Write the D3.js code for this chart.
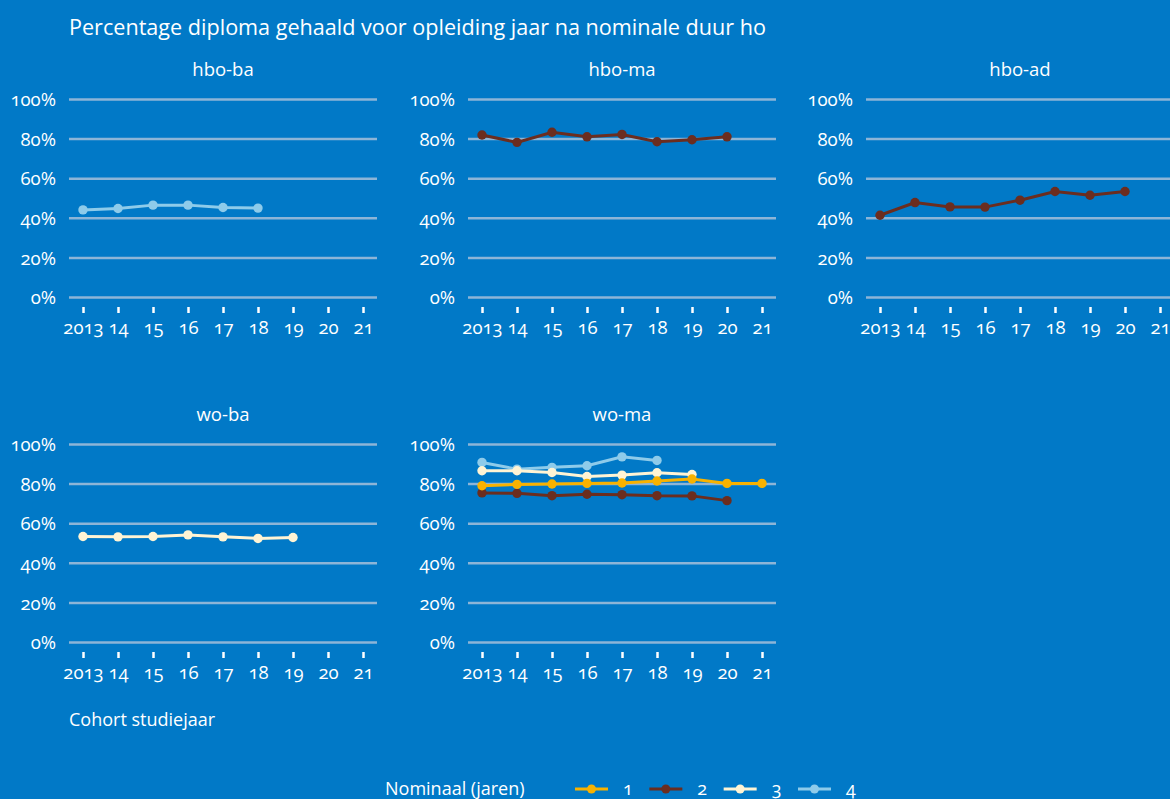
<!DOCTYPE html>
<html>
<head>
<meta charset="utf-8">
<script src="https://cdn.jsdelivr.net/npm/d3@7"></script>
<style>
  html, body { margin: 0; padding: 0; background: #0179C7; }
  svg { display: block; }
  text { font-family: "Open Sans", "Noto Sans", sans-serif; fill: #ffffff; font-variant-numeric: oldstyle-nums; }
</style>
</head>
<body>
<svg id="chart" width="1170" height="799"></svg>
<script>
// Cohort years (x axis) and their tick labels
const years = [2013, 2014, 2015, 2016, 2017, 2018, 2019, 2020, 2021];
const yearLabels = ["2013", "14", "15", "16", "17", "18", "19", "20", "21"];
const pctTicks = [0, 20, 40, 60, 80, 100];

// Nominal duration categories (years) for the legend
const durations = ["1", "2", "3", "4"];
const durationColors = ["#F8B200", "#6B2D1F", "#FFF4D4", "#8ECBEA"];

// Percentage diploma obtained within one year after nominal duration, per cohort
const hboBa4 = [44.0, 44.7, 46.4, 46.4, 45.2, 44.9];
const hboMa2 = [81.8, 78.1, 83.2, 80.9, 82.1, 78.4, 79.4, 80.9];
const hboAd2 = [41.3, 47.7, 45.5, 45.4, 48.9, 53.3, 51.4, 53.3];
const woBa3  = [53.3, 53.1, 53.3, 54.1, 53.1, 52.3, 52.8];
const woMa1  = [78.9, 79.6, 79.8, 80.1, 80.3, 81.3, 82.3, 80.1, 80.1];
const woMa2  = [75.3, 75.1, 73.9, 74.6, 74.4, 73.9, 73.8, 71.4];
const woMa3  = [86.5, 86.5, 85.6, 83.6, 84.3, 85.5, 84.6];
const woMa4  = [90.7, 87.3, 88.2, 89.0, 93.5, 91.7];

const panels = [
  { name: "hbo-ba", col: 0, row: 0, series: [{ d: "4", v: hboBa4 }] },
  { name: "hbo-ma", col: 1, row: 0, series: [{ d: "2", v: hboMa2 }] },
  { name: "hbo-ad", col: 2, row: 0, series: [{ d: "2", v: hboAd2 }] },
  { name: "wo-ba",  col: 0, row: 1, series: [{ d: "3", v: woBa3 }] },
  { name: "wo-ma",  col: 1, row: 1, series: [
      { d: "4", v: woMa4 }, { d: "3", v: woMa3 }, { d: "2", v: woMa2 }, { d: "1", v: woMa1 }] }
];

const color = d3.scaleOrdinal().domain(durations).range(durationColors);

const svg = d3.select("#chart");
const gridColor = "#8DB5D7";

// Main title
svg.append("text")
  .attr("x", 69).attr("y", 35)
  .style("font-size", "21.6px")
  .text("Percentage diploma gehaald voor opleiding jaar na nominale duur ho");

const panelW = 308, panelH = 198;
const colX = [69, 468, 866];
const rowY = [99, 444];

panels.forEach(p => {
  const left = colX[p.col], top = rowY[p.row];
  const g = svg.append("g").attr("transform", `translate(${left},${top})`);

  const x = d3.scaleLinear().domain([2013, 2021]).range([14, 294]);
  const y = d3.scaleLinear().domain([0, 100]).range([panelH, 0]);

  // Panel heading
  g.append("text")
    .attr("x", panelW / 2).attr("y", -23)
    .attr("text-anchor", "middle")
    .style("font-size", "18.5px")
    .text(p.name);

  // Horizontal gridlines with percentage labels
  const yAxis = g.append("g")
    .call(d3.axisLeft(y).tickValues(pctTicks).tickSize(-panelW).tickPadding(13)
      .tickFormat(d => d + "%"));
  yAxis.select(".domain").remove();
  yAxis.selectAll(".tick line").attr("stroke", gridColor).attr("stroke-width", 2.5);
  yAxis.selectAll(".tick text")
    .attr("fill", "#ffffff")
    .style("font-size", "18.5px")
    .style("font-family", "\"Open Sans\", sans-serif")
    .attr("dy", "0.36em");

  // Cohort axis with short tick marks
  const xAxis = g.append("g")
    .attr("transform", `translate(0,${panelH + 10})`)
    .call(d3.axisBottom(x).tickValues(years).tickSize(6).tickPadding(8)
      .tickFormat((d, i) => yearLabels[i]));
  xAxis.select(".domain").remove();
  xAxis.selectAll(".tick line").attr("stroke", "#ffffff").attr("stroke-width", 2.5);
  xAxis.selectAll(".tick text")
    .attr("fill", "#ffffff")
    .style("font-size", "18.5px")
    .style("font-family", "\"Open Sans\", sans-serif");

  // Series lines and markers
  const line = d3.line().x((v, i) => x(years[i])).y(v => y(v));
  p.series.forEach(s => {
    const c = color(s.d);
    g.append("path")
      .datum(s.v)
      .attr("d", line)
      .attr("fill", "none")
      .attr("stroke", c)
      .attr("stroke-width", 3);
    g.selectAll(null)
      .data(s.v)
      .enter().append("circle")
      .attr("cx", (v, i) => x(years[i]))
      .attr("cy", v => y(v))
      .attr("r", 4.7)
      .attr("fill", c);
  });
});

// X axis caption
svg.append("text")
  .attr("x", 69).attr("y", 726)
  .style("font-size", "18px")
  .text("Cohort studiejaar");

// Legend
const legend = svg.append("g");
legend.append("text")
  .attr("x", 385).attr("y", 795)
  .style("font-size", "18px")
  .text("Nominaal (jaren)");

const legendX = d3.scaleLinear().domain([0, 3]).range([575, 798]);
durations.forEach((d, i) => {
  const lx = legendX(i);
  const it = legend.append("g").attr("transform", `translate(${lx},789)`);
  it.append("line").attr("x1", 0).attr("x2", 33).attr("y1", 0).attr("y2", 0)
    .attr("stroke", color(d)).attr("stroke-width", 3);
  it.append("circle").attr("cx", 16.5).attr("cy", 0).attr("r", 4.5).attr("fill", color(d));
  it.append("text").attr("x", 48).attr("y", 6)
    .style("font-size", "18px")
    .text(d);
});
</script>
</body>
</html>
